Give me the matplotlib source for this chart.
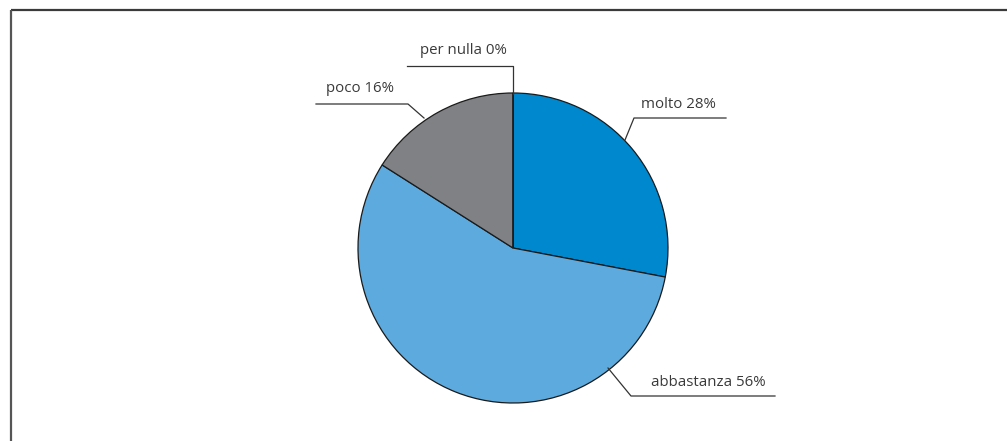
import matplotlib
matplotlib.use("Agg")
import matplotlib.pyplot as plt

# Survey answers (percent)
categories = ["molto", "abbastanza", "poco", "per nulla"]
values = [28, 56, 16, 0]
colors = ["#0088CF", "#5DAADF", "#808184", "#FFFFFF"]

W, H = 1007, 441
fig = plt.figure(figsize=(W / 100, H / 100), dpi=100)
ax = fig.add_axes([0, 0, 1, 1])

def py(y):
    # convert top-down pixel row to axis y
    return H - y

cx, cy, r = 513, py(248), 155
ax.pie(values, colors=colors, startangle=90, counterclock=False,
       center=(cx, cy), radius=r, frame=True,
       wedgeprops=dict(edgecolor="#1a1a1a", linewidth=0.9))
ax.set_xlim(0, W)
ax.set_ylim(0, H)
ax.set_aspect("equal")
ax.axis("off")

# frame lines (top and left)
ax.plot([11, W], [py(10), py(10)], color="#3a3a3a", lw=1.6, solid_capstyle="butt")
ax.plot([11, 11], [py(10), 0], color="#555555", lw=1.6, solid_capstyle="butt")

lc = "#333333"
tc = "#3a3a3a"
font = dict(family="Open Sans", fontsize=10.8, color=tc)

labels = [f"{c} {v}%" for c, v in zip(categories, values)]

# leader lines: (path in pixels), text position
leaders = {
    "molto": ([(625, 140), (634, 118), (726, 118)], (678, 104)),
    "abbastanza": ([(608, 368), (631, 396), (775, 396)], (708, 382)),
    "poco": ([(424, 118), (408, 104), (316, 104)], (360, 89)),
    "per nulla": ([(513, 94), (513, 66), (407, 66)], (463, 50)),
}
for cat, lab in zip(categories, labels):
    pts, (tx, ty) = leaders[cat]
    ax.plot([p[0] for p in pts], [py(p[1]) for p in pts], color=lc, lw=0.9)
    ax.text(tx, py(ty), lab, ha="center", va="center", **font)

fig.savefig("out.png", dpi=100)
